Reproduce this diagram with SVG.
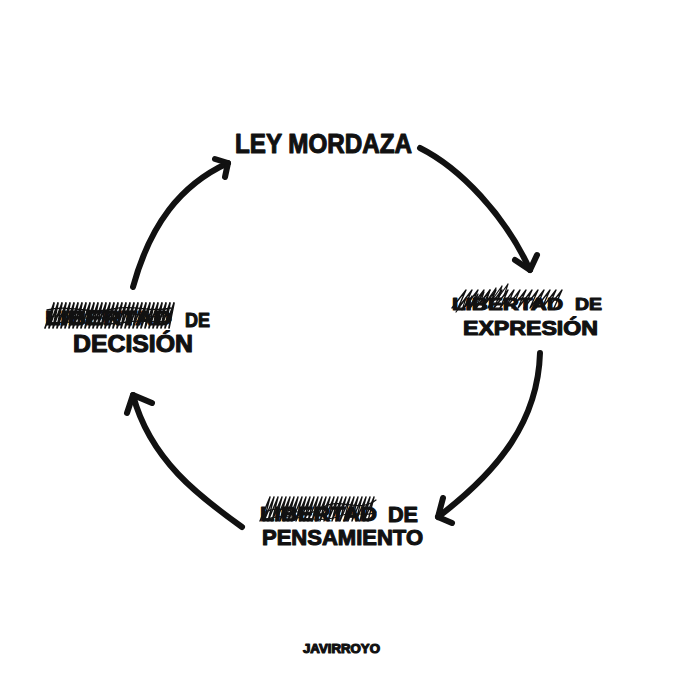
<svg xmlns="http://www.w3.org/2000/svg" width="680" height="680" viewBox="0 0 680 680">
<style>
.t{font-family:"Liberation Sans","DejaVu Sans",sans-serif;font-weight:bold;fill:#111;stroke:#111;stroke-width:1.1;stroke-linejoin:round}
.arc{fill:none;stroke:#111;stroke-width:6;stroke-linecap:round;stroke-linejoin:round}
.scr{fill:none;stroke:#111;stroke-linecap:round;stroke-linejoin:round}
</style>
<rect width="680" height="680" fill="#fff"/>
<g id="connectors">
<path class="arc" d="M420,148 C460,168 505,215 530,270"/>
<polyline class="arc" points="515,260 530,270 537,255"/>
<path class="arc" d="M540,353 C538,420 500,470 438,517"/>
<polyline class="arc" points="443,498 438,517 452,523"/>
<path class="arc" d="M242,527 C200,497 150,460 133,395"/>
<polyline class="arc" points="127,413 133,395 152,403"/>
<path class="arc" d="M133,287 C150,225 180,185 228,163"/>
<polyline class="arc" points="215,159 228,163 225,177"/>
</g>
<g id="ley-mordaza">
<text class="t" x="235" y="153" font-size="27" textLength="177" lengthAdjust="spacingAndGlyphs">LEY MORDAZA</text>
</g>
<g id="expresion">
<text class="t" x="452" y="310" font-size="17" textLength="111" lengthAdjust="spacingAndGlyphs">LIBERTAD</text>
<path class="scr" stroke-width="1.4" d="M452,308 l14,-18 l-8,18 l14,-18 l-8,18 l14,-18 l-8,18 l14,-18 l-8,18 l14,-18 l-8,18 l14,-18 l-8,18 l14,-18 l-8,18 l14,-18 l-8,18 l14,-18 l-8,18 l14,-18 l-8,18 l14,-18 l-8,18 l14,-18 l-8,18 l14,-18 l-8,18 l14,-18 l-8,18 l14,-18 l-8,18 l14,-18 l-8,18 l14,-18 l-8,18"/>
<path class="scr" stroke-width="1.2" d="M456,312 l10,-14 l-4,12 l10,-14 l-4,12 l10,-14 l-4,12 l10,-14 l-4,12 l10,-14 l-4,12 l10,-14 l-4,12 l10,-14 l-4,12 l10,-14 l-4,12"/>
<text class="t" x="575" y="310" font-size="17" textLength="27" lengthAdjust="spacingAndGlyphs">DE</text>
<text class="t" x="463" y="335" font-size="20" textLength="135" lengthAdjust="spacingAndGlyphs">EXPRESIÓN</text>
</g>
<g id="pensamiento">
<text class="t" x="260" y="521" font-size="20" textLength="117" lengthAdjust="spacingAndGlyphs">LIBERTAD</text>
<path class="scr" stroke-width="1.4" d="M260,521 l10,-24 l-6,24 l10,-24 l-6,24 l10,-24 l-6,24 l10,-24 l-6,24 l10,-24 l-6,24 l10,-24 l-6,24 l10,-24 l-6,24 l10,-24 l-6,24 l10,-24 l-6,24 l10,-24 l-6,24 l10,-24 l-6,24 l10,-24 l-6,24 l10,-24 l-6,24 l10,-24 l-6,24 l10,-24 l-6,24 l10,-24 l-6,24 l10,-24 l-6,24 l10,-24 l-6,24 l10,-24 l-6,24 l10,-24 l-6,24 l10,-24 l-6,24 l10,-24 l-6,24 l10,-24 l-6,24 l10,-24 l-6,24 l10,-24 l-6,24 l10,-24 l-6,24 l10,-24 l-6,24"/>
<path class="scr" stroke-width="1.2" d="M262,514 c20,-14 40,8 60,-6 c18,-12 36,6 54,-8 M264,520 c24,-10 50,6 76,-4 c14,-6 26,2 36,-4"/>
<text class="t" x="388" y="522" font-size="22" textLength="30" lengthAdjust="spacingAndGlyphs">DE</text>
<text class="t" x="262" y="545" font-size="22" textLength="161" lengthAdjust="spacingAndGlyphs">PENSAMIENTO</text>
</g>
<g id="decision">
<text class="t" x="45" y="325" font-size="20" textLength="127" lengthAdjust="spacingAndGlyphs">LIBERTAD</text>
<path class="scr" stroke-width="1.7" d="M45,328 l9,-25 l-5,25 l9,-25 l-5,25 l9,-25 l-5,25 l9,-25 l-5,25 l9,-25 l-5,25 l9,-25 l-5,25 l9,-25 l-5,25 l9,-25 l-5,25 l9,-25 l-5,25 l9,-25 l-5,25 l9,-25 l-5,25 l9,-25 l-5,25 l9,-25 l-5,25 l9,-25 l-5,25 l9,-25 l-5,25 l9,-25 l-5,25 l9,-25 l-5,25 l9,-25 l-5,25 l9,-25 l-5,25 l9,-25 l-5,25 l9,-25 l-5,25 l9,-25 l-5,25 l9,-25 l-5,25 l9,-25 l-5,25 l9,-25 l-5,25 l9,-25 l-5,25 l9,-25 l-5,25 l9,-25 l-5,25 l9,-25 l-5,25 l9,-25 l-5,25 l9,-25 l-5,25"/>
<path class="scr" stroke-width="1.3" d="M47,318 c20,-8 40,6 62,-2 c20,-8 40,6 62,-2 M47,324 c24,-6 50,4 80,-2 c16,-3 30,2 44,-2 M47,310 c22,-6 44,5 66,-1 c20,-5 40,4 58,-1"/>
<text class="t" x="185" y="327" font-size="20" textLength="25" lengthAdjust="spacingAndGlyphs">DE</text>
<text class="t" x="73" y="352" font-size="23" textLength="120" lengthAdjust="spacingAndGlyphs">DECISIÓN</text>
</g>
<g id="signature">
<text class="t" x="303" y="653" font-size="12" stroke-width="0.4" textLength="77" lengthAdjust="spacingAndGlyphs">JAVIRROYO</text>
</g>
</svg>
